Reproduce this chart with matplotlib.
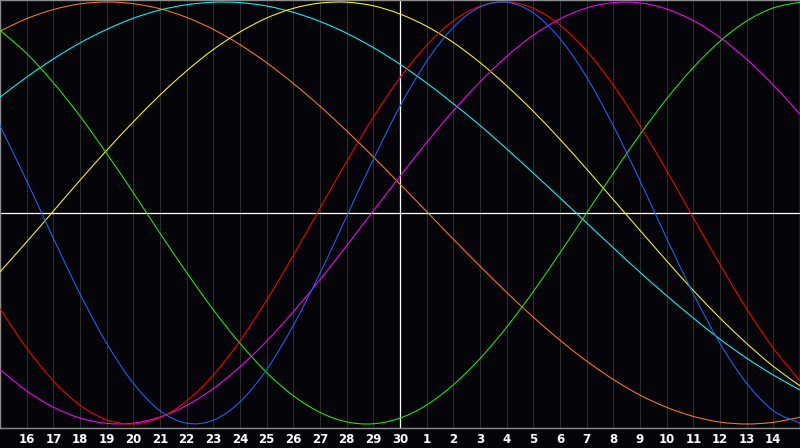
import numpy as np
import matplotlib
matplotlib.use("Agg")
import matplotlib.pyplot as plt
from matplotlib.path import Path
from matplotlib.patches import PathPatch

# day positions across the chart (0 = left edge, 30 = right edge)
days = list(range(31))
day_labels = ["16", "17", "18", "19", "20", "21", "22", "23", "24", "25", "26", "27", "28", "29", "30",
              "1", "2", "3", "4", "5", "6", "7", "8", "9", "10", "11", "12", "13", "14"]

# values, one per day (-1 .. 1)
blue = [0.413, 0.153, -0.120, -0.383, -0.618, -0.807, -0.937, -0.996, -0.982, -0.895, -0.742,
        -0.533, -0.286, -0.016, 0.254, 0.506, 0.719, 0.880, 0.976, 0.999, 0.948, 0.826, 0.644,
        0.413, 0.153, -0.120, -0.383, -0.618, -0.807, -0.937, -0.996]
red = [-0.454, -0.641, -0.795, -0.911, -0.980, -1.000, -0.970, -0.891, -0.768, -0.606, -0.413,
       -0.201, 0.023, 0.244, 0.454, 0.641, 0.795, 0.911, 0.980, 1.000, 0.970, 0.891, 0.768,
       0.606, 0.413, 0.201, -0.023, -0.244, -0.454, -0.641, -0.795]
green = [0.866, 0.756, 0.618, 0.459, 0.282, 0.096, -0.096, -0.282, -0.459, -0.618, -0.756,
         -0.866, -0.945, -0.990, -0.999, -0.972, -0.910, -0.814, -0.690, -0.541, -0.372, -0.189,
         0.0, 0.189, 0.372, 0.541, 0.690, 0.814, 0.910, 0.972, 0.999]
magenta = [-0.742, -0.843, -0.920, -0.972, -0.997, -0.996, -0.967, -0.912, -0.832, -0.729, -0.607,
           -0.468, -0.316, -0.155, 0.010, 0.174, 0.334, 0.485, 0.621, 0.742, 0.843, 0.920, 0.972,
           0.997, 0.996, 0.967, 0.912, 0.832, 0.729, 0.607, 0.468]
yellow = [-0.279, -0.137, 0.009, 0.155, 0.297, 0.432, 0.559, 0.674, 0.775, 0.858, 0.924,
          0.970, 0.995, 0.999, 0.982, 0.943, 0.885, 0.808, 0.713, 0.603, 0.482, 0.349, 0.208,
          0.063, -0.082, -0.227, -0.367, -0.498, -0.618, -0.727, -0.819]
orange = [0.862, 0.921, 0.964, 0.991, 1.000, 0.992, 0.968, 0.927, 0.870, 0.798, 0.712,
          0.614, 0.506, 0.389, 0.266, 0.137, 0.007, -0.124, -0.252, -0.376, -0.494, -0.603, -0.702,
          -0.789, -0.863, -0.921, -0.964, -0.991, -1.000, -0.992, -0.968]
cyan = [0.549, 0.644, 0.730, 0.806, 0.870, 0.923, 0.962, 0.987, 0.999, 0.997, 0.981,
        0.951, 0.908, 0.852, 0.784, 0.705, 0.616, 0.518, 0.415, 0.304, 0.189, 0.072, -0.047,
        -0.165, -0.281, -0.392, -0.498, -0.598, -0.688, -0.768, -0.839]

series = [
    (orange, "#ff8000"),
    (cyan, "#00ffff"),
    (yellow, "#ffff00"),
    (green, "#22ee00"),
    (magenta, "#ff00ff"),
    (red, "#ff0000"),
    (blue, "#1a66ff"),
]


def smooth_path(xs, ys):
    # catmull-rom through the day points, drawn as bezier curves
    p = np.column_stack([xs, ys]).astype(float)
    pp = np.vstack([p[0], p, p[-1]])
    verts = [p[0]]
    codes = [Path.MOVETO]
    for k in range(1, len(pp) - 2):
        p0, p1, p2, p3 = pp[k - 1], pp[k], pp[k + 1], pp[k + 2]
        verts += [p1 + (p2 - p0) / 6, p2 - (p3 - p1) / 6, p2]
        codes += [Path.CURVE4] * 3
    return Path(verts, codes)


bg = "#050408"
fig = plt.figure(figsize=(8, 4.48), dpi=100, facecolor=bg)
ax = fig.add_axes([0, 20 / 448, 1, 428 / 448])
ax.set_facecolor(bg)

ax.set_xlim(0, 30)
ax.set_ylim(-1.019, 1.0095)

ax.set_xticks(range(1, 30))
ax.set_xticklabels(day_labels, color="white", fontsize=8.5, fontweight="bold")
ax.tick_params(axis="x", length=0, pad=3.5)
ax.set_yticks([])
ax.grid(axis="x", color="#353535", linewidth=0.6)

for s in ax.spines.values():
    s.set_color("#8c8c8c")
    s.set_linewidth(1)

ax.axhline(0, color="white", linewidth=0.9, zorder=2)
ax.axvline(15, color="white", linewidth=0.9, zorder=2)

for vals, col in series:
    ax.add_patch(PathPatch(smooth_path(days, vals), fill=False, edgecolor=col,
                           linewidth=0.75, zorder=3))

fig.savefig("out.png", dpi=100, facecolor=bg)
